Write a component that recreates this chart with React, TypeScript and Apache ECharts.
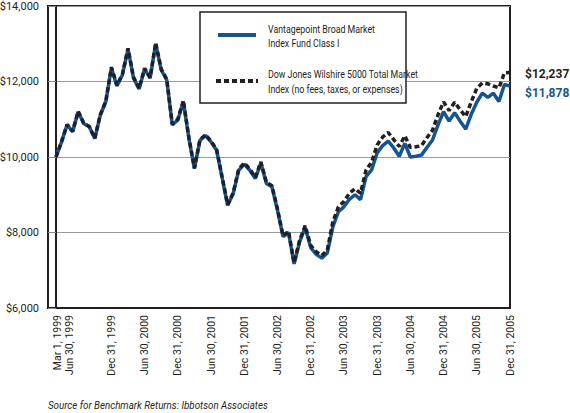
import React, { useEffect, useRef } from "react";
import * as echarts from "echarts";

// Month-end values from Mar 1, 1999 (index 0) to Dec 31, 2005 (index 82)
const FUND = [
  10000, 10400, 10850, 10670, 11200, 10890, 10800, 10490, 11110, 11470,
  12360, 11880, 12180, 12860, 12090, 11800, 12330, 12090, 13000, 12310,
  12040, 10850, 10980, 11470, 10490, 9690, 10440, 10570, 10400, 10180,
  9450, 8720, 9030, 9650, 9810, 9650, 9430, 9840, 9300, 9210,
  8590, 7890, 8000, 7170, 7750, 8130, 7600, 7420, 7320, 7460,
  8150, 8550, 8680, 8880, 9000, 8870, 9480, 9660, 10110, 10300,
  10420, 10240, 10020, 10360, 10000, 10020, 10050, 10250, 10450, 10850,
  11200, 10950, 11170, 10950, 10740, 11130, 11450, 11690, 11580, 11690,
  11470, 11920, 11878,
];

const INDEX = [
  10000, 10410, 10860, 10680, 11210, 10900, 10810, 10500, 11120, 11480,
  12380, 11900, 12200, 12880, 12110, 11820, 12350, 12110, 13020, 12330,
  12060, 10870, 11000, 11490, 10510, 9710, 10460, 10590, 10420, 10200,
  9470, 8740, 9050, 9680, 9840, 9680, 9460, 9870, 9330, 9240,
  8620, 7920, 8030, 7200, 7790, 8180, 7660, 7490, 7390, 7540,
  8280, 8680, 8820, 9040, 9160, 9040, 9660, 9860, 10320, 10530,
  10650, 10460, 10280, 10560, 10250, 10270, 10300, 10510, 10710, 11120,
  11460, 11230, 11450, 11250, 11070, 11460, 11820, 11960, 11940, 11880,
  11830, 12230, 12237,
];

const X_LABEL_POS = [0.3, 2.5, 10, 16, 22, 28, 34, 40, 46, 52, 58, 64, 70, 76, 82];
const X_LABELS = [
  "Mar 1, 1999", "Jun 30, 1999", "Dec 31, 1999", "Jun 30, 2000", "Dec 31, 2000",
  "Jun 30, 2001", "Dec 31, 2001", "Jun 30, 2002", "Dec 31, 2002", "Jun 30, 2003",
  "Dec 31, 2003", "Jun 30, 2004", "Dec 31, 2004", "Jun 30, 2005", "Dec 31, 2005",
];

const Y_MIN = 6000;
const Y_MAX = 14000;
const Y_STEP = 2000;

const FUND_LEGEND = "Vantagepoint Broad Market\nIndex Fund Class I";
const INDEX_LEGEND = "Dow Jones Wilshire 5000 Total Market\nIndex (no fees, taxes, or expenses)";
const FUND_END = "$11,878";
const INDEX_END = "$12,237";
const SOURCE = "Source for Benchmark Returns: Ibbotson Associates";

const FONT = "Roboto, 'DejaVu Sans Condensed', sans-serif";
const BLUE = "#145591";
const INK = "#231f20";

export default function App() {
  const ref = useRef<HTMLDivElement>(null);

  useEffect(() => {
    if (!ref.current) return;
    const chart = echarts.init(ref.current, undefined, { renderer: "svg" });
    const option: any = {
      animation: false,
      backgroundColor: "#ffffff",
      grid: {
        left: 48,
        right: 60,
        top: 6,
        bottom: 105,
        containLabel: false,
        outerBoundsMode: "none",
        show: true,
        borderColor: INK,
        borderWidth: 2,
        backgroundColor: "transparent",
      },
      xAxis: {
        type: "value",
        min: -1.45,
        max: 82,
        axisLine: { show: true, onZero: false, lineStyle: { color: INK, width: 2 } },
        axisTick: { show: false },
        splitLine: { show: false },
        axisLabel: {
          customValues: X_LABEL_POS,
          hideOverlap: false,
          rotate: 90,
          margin: 7,
          fontSize: 10.5,
          color: INK,
          fontFamily: FONT,
          formatter: (v: number) => {
            let best = 0;
            for (let k = 0; k < X_LABEL_POS.length; k++) {
              if (Math.abs(X_LABEL_POS[k] - v) < Math.abs(X_LABEL_POS[best] - v)) best = k;
            }
            return X_LABELS[best];
          },
        },
      },
      yAxis: {
        type: "value",
        min: Y_MIN,
        max: Y_MAX,
        interval: Y_STEP,
        axisLine: { show: true, lineStyle: { color: INK, width: 2 } },
        axisTick: { show: true, length: 8, lineStyle: { color: "#888", width: 1 } },
        splitLine: { show: true, lineStyle: { color: "#9a9a9a", width: 1 } },
        axisLabel: {
          margin: 9,
          fontSize: 11,
          color: INK,
          fontFamily: FONT,
          formatter: (v: number) => "$" + v.toLocaleString("en-US"),
        },
      },
      series: [
        {
          type: "line",
          name: "fund",
          data: FUND.map((v, i) => [i, v]),
          symbol: "none",
          z: 2,
          lineStyle: { color: BLUE, width: 3.5 },
          endLabel: {
            show: true,
            formatter: FUND_END,
            color: BLUE,
            fontSize: 12,
            fontWeight: "bold",
            fontFamily: FONT,
            distance: 15,
            offset: [0, 7],
          },
        },
        {
          type: "line",
          name: "index",
          data: INDEX.map((v, i) => [i, v]),
          symbol: "none",
          z: 3,
          lineStyle: { color: INK, width: 3.5, type: [5, 3] },
          endLabel: {
            show: true,
            formatter: INDEX_END,
            color: INK,
            fontSize: 12,
            fontWeight: "bold",
            fontFamily: FONT,
            distance: 15,
            offset: [0, 1.5],
          },
        },
      ],
      graphic: [
        {
          type: "rect",
          z: 100,
          shape: { x: 200, y: 12, width: 206, height: 91 },
          style: { fill: "#ffffff", stroke: INK, lineWidth: 1.5 },
        },
        {
          type: "line",
          z: 101,
          shape: { x1: 218, y1: 35, x2: 256, y2: 35 },
          style: { stroke: BLUE, lineWidth: 4 },
        },
        {
          type: "line",
          z: 101,
          shape: { x1: 216, y1: 81, x2: 258, y2: 81 },
          style: { stroke: INK, lineWidth: 4, lineDash: [5, 3] },
        },
        {
          type: "text",
          z: 101,
          x: 268,
          y: 36,
          scaleX: 0.8,
          style: {
            text: FUND_LEGEND,
            fill: INK,
            fontSize: 11,
            fontFamily: FONT,
            lineHeight: 14,
            verticalAlign: "middle",
          },
        },
        {
          type: "text",
          z: 101,
          x: 268,
          y: 81.5,
          scaleX: 0.8,
          style: {
            text: INDEX_LEGEND,
            fill: INK,
            fontSize: 11,
            fontFamily: FONT,
            lineHeight: 15,
            verticalAlign: "middle",
          },
        },
        {
          type: "text",
          x: 48,
          y: 405,
          scaleX: 0.85,
          style: {
            text: SOURCE,
            fill: INK,
            fontSize: 11.5,
            fontStyle: "italic",
            fontFamily: FONT,
            verticalAlign: "middle",
          },
        },
      ],
    };
    chart.setOption(option);
    return () => chart.dispose();
  }, []);

  return (
    <div
      ref={ref}
      style={{ position: "fixed", left: 0, top: 0, width: 570, height: 413, background: "#fff" }}
    />
  );
}
